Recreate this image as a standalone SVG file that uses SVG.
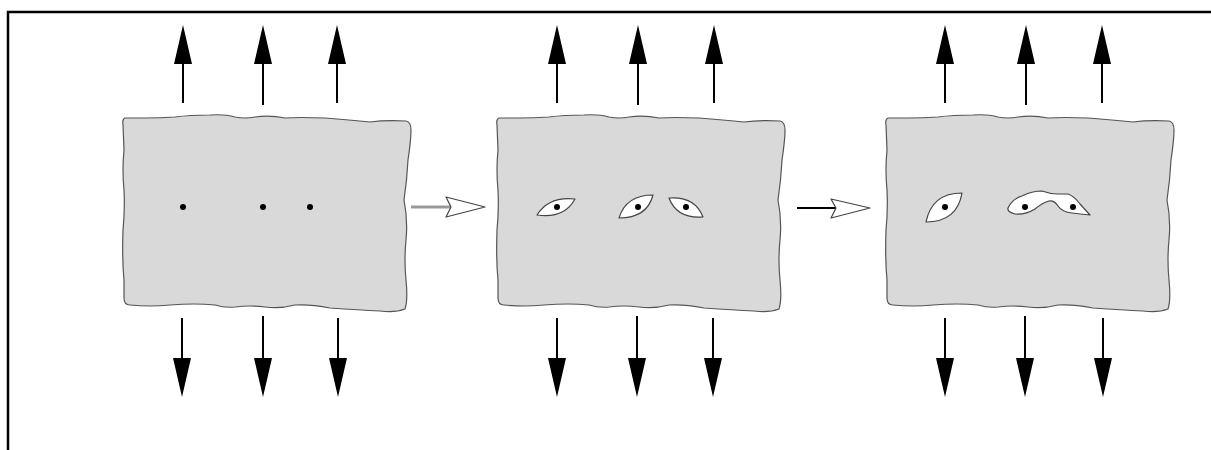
<svg xmlns="http://www.w3.org/2000/svg" width="1211" height="450" viewBox="0 0 1211 450">
<style>
.panel{fill:#d9d9d9;stroke:#555;stroke-width:1.2;stroke-linejoin:round}
.void{fill:#fff;stroke:#444;stroke-width:1.2;stroke-linejoin:round}
.dot{fill:#000}
.shaft{stroke:#000;stroke-width:2;fill:none}
.head{fill:#000}
.frame{stroke:#000;stroke-width:2.5;fill:none}
</style>
<defs>
<path id="slab" d="M125,118 Q122,119 123,125 L124,150 Q122,170 124,190 Q125,210 123,230 Q122,260 124,280 L124,298 Q124,305 130,305 Q150,307 170,305 Q195,303 215,305 Q225,308 235,307 Q250,305 265,307 Q280,309 295,305 Q310,304 330,308 Q360,310 380,311 Q395,313 405,309 Q408,300 406,280 Q404,260 406,240 Q408,220 404,200 Q407,180 408,160 Q411,140 411,130 Q411,122 406,121 Q385,120 370,122 Q350,120 325,118 Q300,117 285,118 Q270,115 255,117 Q245,119 235,117 Q225,114 210,115 Q190,115 175,117 Q160,118 145,118 Z"/>
<path id="up" d="M-9,64 L0,25 L9,64 Z"/>
<path id="down" d="M-9,358 L0,397 L9,358 Z"/>
</defs>
<path class="frame" d="M8,450 L8,12 L1211,12"/>

<g id="panel1">
<use href="#slab" class="panel"/>
<circle class="dot" cx="183" cy="207" r="3"/>
<circle class="dot" cx="263" cy="207" r="3"/>
<circle class="dot" cx="310" cy="207" r="3"/>
</g>
<g id="panel2">
<use href="#slab" class="panel" transform="translate(374,0)"/>
<path class="void" d="M537,215 Q549,196 575,199 Q564,219 537,215 Z"/>
<path class="void" d="M619,218 Q626,195 653,195 Q647,218 619,218 Z"/>
<path class="void" d="M669,198 Q695,196 703,217 Q677,219 669,198 Z"/>
<circle class="dot" cx="557" cy="207" r="3"/>
<circle class="dot" cx="638" cy="207" r="3"/>
<circle class="dot" cx="686" cy="207" r="3"/>
</g>
<g id="panel3">
<use href="#slab" class="panel" transform="translate(763,0)"/>
<path class="void" d="M926,222 Q932,193 962,193 Q957,222 926,222 Z"/>
<path class="void" d="M1008,208 Q1012,199 1022,196 Q1032,191 1042,191 Q1050,194 1058,194 L1068,194 Q1074,196 1080,204 L1090,215 Q1080,214 1072,213 Q1062,212 1058,206 Q1054,200 1049,201 Q1042,203 1035,209 Q1025,215 1015,214 Q1007,212 1008,208 Z"/>
<circle class="dot" cx="945" cy="207" r="3"/>
<circle class="dot" cx="1025" cy="207" r="3"/>
<circle class="dot" cx="1073" cy="207" r="3"/>
</g>

<g id="connectors">
<g id="loads-up">
<line class="shaft" x1="183" y1="60" x2="183" y2="103"/><use href="#up" class="head" x="183"/>
<line class="shaft" x1="263" y1="60" x2="263" y2="105"/><use href="#up" class="head" x="263"/>
<line class="shaft" x1="337" y1="60" x2="337" y2="103"/><use href="#up" class="head" x="337"/>
<line class="shaft" x1="557" y1="60" x2="557" y2="103"/><use href="#up" class="head" x="557"/>
<line class="shaft" x1="638" y1="60" x2="638" y2="105"/><use href="#up" class="head" x="638"/>
<line class="shaft" x1="714" y1="60" x2="714" y2="103"/><use href="#up" class="head" x="714"/>
<line class="shaft" x1="945" y1="60" x2="945" y2="103"/><use href="#up" class="head" x="945"/>
<line class="shaft" x1="1026" y1="60" x2="1026" y2="105"/><use href="#up" class="head" x="1026"/>
<line class="shaft" x1="1102" y1="60" x2="1102" y2="103"/><use href="#up" class="head" x="1102"/>
</g>
<g id="loads-down">
<line class="shaft" x1="182" y1="318" x2="182" y2="362"/><use href="#down" class="head" x="182"/>
<line class="shaft" x1="263" y1="316" x2="263" y2="362"/><use href="#down" class="head" x="263"/>
<line class="shaft" x1="338" y1="318" x2="338" y2="362"/><use href="#down" class="head" x="338"/>
<line class="shaft" x1="557" y1="318" x2="557" y2="362"/><use href="#down" class="head" x="557"/>
<line class="shaft" x1="637" y1="316" x2="637" y2="362"/><use href="#down" class="head" x="637"/>
<line class="shaft" x1="713" y1="318" x2="713" y2="362"/><use href="#down" class="head" x="713"/>
<line class="shaft" x1="945" y1="318" x2="945" y2="362"/><use href="#down" class="head" x="945"/>
<line class="shaft" x1="1025" y1="316" x2="1025" y2="362"/><use href="#down" class="head" x="1025"/>
<line class="shaft" x1="1103" y1="318" x2="1103" y2="362"/><use href="#down" class="head" x="1103"/>
</g>
<g id="step1">
<line x1="411" y1="207" x2="451" y2="207" stroke="#999" stroke-width="3"/>
<path d="M446,197 L485,207 L446,217 L451,207 Z" fill="#fff" stroke="#444" stroke-width="1.2" stroke-linejoin="round"/>
</g>
<g id="step2">
<line x1="797" y1="208" x2="836" y2="208" stroke="#000" stroke-width="2"/>
<path d="M831,199 L870,208 L831,218 L836,208 Z" fill="#fff" stroke="#444" stroke-width="1.2" stroke-linejoin="round"/>
</g>
</g>
</svg>
